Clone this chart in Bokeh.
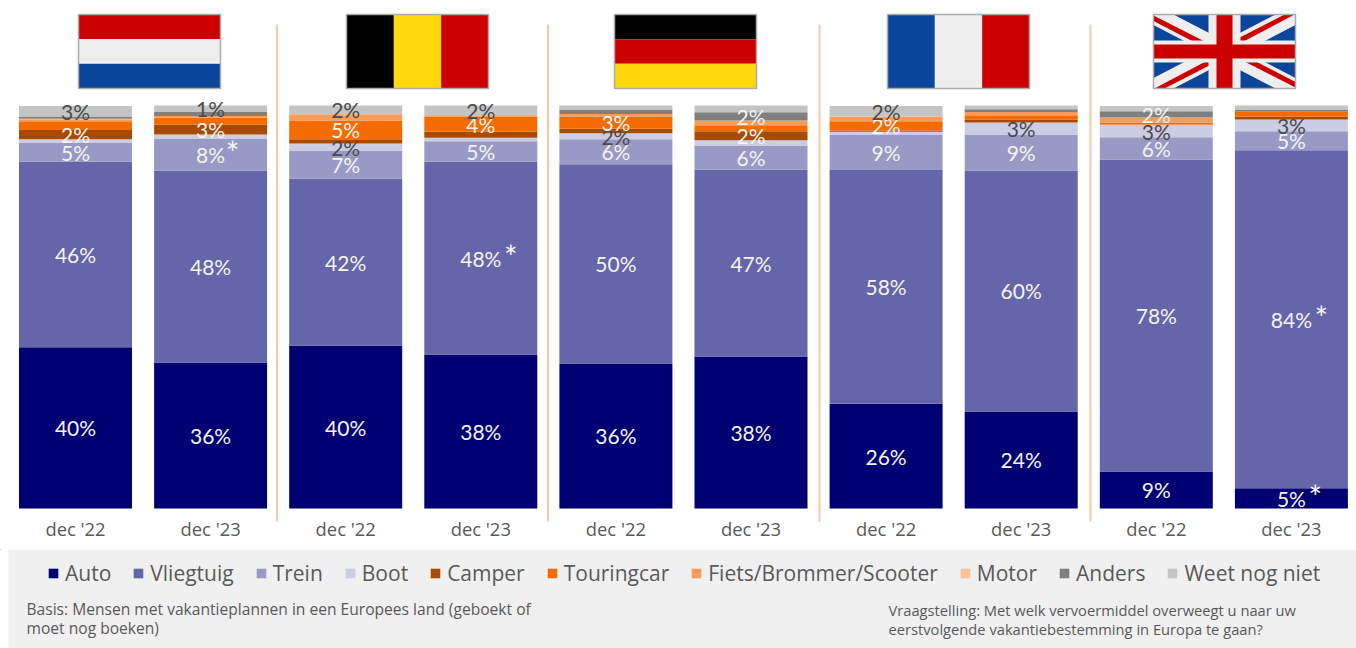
from bokeh.plotting import figure
from bokeh.models import Range1d, FixedTicker, ColumnDataSource, Legend, LegendItem
from bokeh.layouts import column
from bokeh.core.properties import value
from bokeh.embed import file_html
from bokeh.resources import INLINE

periods = ["dec '22", "dec '23"] * 5
series = ["Auto", "Vliegtuig", "Trein", "Boot", "Camper", "Touringcar",
          "Fiets/Brommer/Scooter", "Motor", "Anders", "Weet nog niet"]

auto      = [40.0, 36.2, 40.4, 38.2, 36.0, 37.7, 26.0, 24.1, 9.2, 5.0]
vliegtuig = [46.1, 47.6, 41.4, 47.9, 49.4, 46.4, 58.0, 59.8, 77.4, 83.9]
trein     = [4.7, 8.0, 6.9, 5.0, 6.2, 6.0, 8.7, 8.9, 5.5, 4.7]
boot      = [0.8, 1.0, 1.9, 0.9, 1.5, 1.3, 0.8, 3.0, 3.1, 2.9]
camper    = [2.3, 2.5, 1.0, 1.5, 1.1, 2.2, 0.3, 0.7, 0.1, 0.7]
touring   = [2.2, 1.7, 4.7, 3.8, 3.1, 1.5, 2.3, 1.1, 0.5, 1.4]
fiets     = [0.5, 0.4, 1.5, 0.3, 0.6, 1.2, 1.2, 0.8, 1.2, 0.0]
motor     = [0.1, 0.0, 0.0, 0.0, 0.0, 0.0, 0.0, 0.0, 0.0, 0.0]
anders    = [0.6, 1.0, 0.0, 0.0, 1.1, 2.0, 0.0, 0.7, 1.6, 0.4]
weet      = [2.6, 1.6, 2.2, 2.4, 1.0, 1.7, 2.6, 0.9, 1.3, 1.0]

lbl_auto      = ["40%", "36%", "40%", "38%", "36%", "38%", "26%", "24%", "9%", "5%"]
lbl_vliegtuig = ["46%", "48%", "42%", "48%", "50%", "47%", "58%", "60%", "78%", "84%"]
lbl_trein     = ["5%", "8%", "7%", "5%", "6%", "6%", "9%", "9%", "6%", "5%"]
lbl_boot      = ["", "", "2%", "", "2%", "", "", "3%", "3%", "3%"]
lbl_camper    = ["2%", "3%", "", "", "", "2%", "", "", "", ""]
lbl_touring   = ["", "", "5%", "4%", "3%", "", "2%", "", "", ""]
lbl_anders    = ["", "", "", "", "", "2%", "", "", "2%", ""]
lbl_weet      = ["3%", "1%", "2%", "2%", "", "", "2%", "", "", ""]

# (series index, bar index, horizontal offset in px) of the significance stars
stars = [(2, 1, 22), (1, 3, 30), (1, 9, 30), (0, 9, 24)]

colors = ["#000072", "#6565A9", "#9999C6", "#CCCCE4", "#A84B00", "#F46B00",
          "#F79D59", "#F9C39A", "#7F7F7F", "#C4C4C4"]
WHITE, DARK = "#F4F4F4", "#4A4A4A"
FONT, FONT2 = "Lato", "Open Sans"

values = [auto, vliegtuig, trein, boot, camper, touring, fiets, motor, anders, weet]
labels = [(0, lbl_auto, WHITE), (1, lbl_vliegtuig, WHITE), (2, lbl_trein, WHITE), (3, lbl_boot, DARK),
          (4, lbl_camper, WHITE), (5, lbl_touring, WHITE), (8, lbl_anders, WHITE), (9, lbl_weet, DARK)]

PX_PER_PCT, PITCH = 4.03, 135.1
def dx(px): return (px - 75) / PITCH
def dy(py): return (508 - py) / PX_PER_PCT

p = figure(width=1356, height=549, output_backend="svg", toolbar_location=None,
           x_range=Range1d(dx(0), dx(1356)), y_range=Range1d(dy(522), dy(0)),
           min_border_left=0, min_border_right=0, min_border_top=0, min_border_bottom=27,
           outline_line_color=None, background_fill_color="white", border_fill_color="white")
p.grid.visible = False
p.yaxis.visible = False
ax = p.xaxis[0]
ax.ticker = FixedTicker(ticks=list(range(10)))
ax.major_label_overrides = {i: t for i, t in enumerate(periods)}
ax.axis_line_color = None
ax.major_tick_line_color = None
ax.minor_tick_line_color = None
ax.major_tick_out = 0
ax.major_tick_in = 0
ax.major_label_standoff = -7
ax.major_label_text_font = FONT2
ax.major_label_text_font_size = "18.4px"
ax.major_label_text_color = "#595959"

# ---- stacked bars
xs = list(range(10))
data = {"x": xs}
keys = [f"s{i}" for i in range(10)]
for k, v in zip(keys, values):
    data[k] = v
p.vbar_stack(keys, x="x", width=113 / PITCH, color=colors, line_color=None,
             source=ColumnDataSource(data))

# ---- value labels, centred on their segment
def base(s, b):
    return sum(values[j][b] for j in range(s))

for s, texts, col in labels:
    idx = [b for b in xs if texts[b]]
    p.text(x=idx, y=[base(s, b) + values[s][b] / 2 for b in idx], text=[texts[b] for b in idx],
           text_color=col, text_align="center", text_baseline="middle",
           text_font=value(FONT), text_font_size="21px")
for s, b, off in stars:
    p.text(x=[b], y=[base(s, b) + values[s][b] / 2], text=["*"], x_offset=off, y_offset=-2,
           text_color=WHITE, text_align="center", text_baseline="middle",
           text_font=value(FONT), text_font_size="32px")

# ---- separators between the countries
for px in [276.5, 547.5, 819, 1090]:
    p.segment(x0=[dx(px)], x1=[dx(px)], y0=[dy(24)], y1=[dy(521)], line_color="#F8C8A4", line_width=2)

# ---- flags
RED, WHT, BLU, BLK, YEL = "#CC0000", "#EEEEEE", "#0B469C", "#000000", "#FFD80A"
F_W, F_H, F_T = 142, 74, 14

def poly(x0, pts, col):
    p.patch([dx(x0 + u) for u, v in pts], [dy(F_T + v) for u, v in pts], fill_color=col, line_color=None)

def box(x0, u0, v0, u1, v1, col):
    poly(x0, [(u0, v0), (u1, v0), (u1, v1), (u0, v1)], col)

def hstripes(x0, cols):
    for i, c in enumerate(cols):
        box(x0, 0, i * F_H / 3, F_W, (i + 1) * F_H / 3, c)

def vstripes(x0, cols):
    for i, c in enumerate(cols):
        box(x0, i * F_W / 3, 0, (i + 1) * F_W / 3, F_H, c)

def frame(x0):
    u = [0, F_W, F_W, 0, 0]
    v = [0, 0, F_H, F_H, 0]
    p.line([dx(x0 + a) for a in u], [dy(F_T + b) for b in v], line_color="#ABABAB", line_width=1.5)

hstripes(78, [RED, WHT, BLU]); frame(78)
vstripes(346, [BLK, YEL, RED]); frame(346)
hstripes(614, [BLK, RED, YEL]); frame(614)
vstripes(887, [BLU, WHT, RED]); frame(887)

uk = 1153
box(uk, 0, 0, F_W, F_H, BLU)
a, b = 20, 10.5
W, H = F_W, F_H
poly(uk, [(0, 0), (a, 0), (W, H - b), (W, H), (W - a, H), (0, b)], WHT)
poly(uk, [(W, 0), (W, b), (a, H), (0, H), (0, H - b), (W - a, 0)], WHT)
poly(uk, [(0, 1), (W / 2, H / 2), (W / 2 - 12, H / 2), (0, 6.5)], RED)
poly(uk, [(W, H - 1), (W / 2, H / 2), (W / 2 + 12, H / 2), (W, H - 6.5)], RED)
poly(uk, [(W - 1, 0), (W / 2, H / 2), (W / 2 - 12, H / 2), (W - 11, 0)], RED)
poly(uk, [(1, H), (W / 2, H / 2), (W / 2 + 12, H / 2), (11, H)], RED)
box(uk, W / 2 - 16, 0, W / 2 + 16, H, WHT)
box(uk, 0, H / 2 - 11, W, H / 2 + 11, WHT)
box(uk, W / 2 - 8, 0, W / 2 + 8, H, RED)
box(uk, 0, H / 2 - 7, W, H / 2 + 7, RED)
frame(uk)

# ---- grey panel with legend and notes
q = figure(width=1356, height=99, output_backend="svg", toolbar_location=None,
           x_range=Range1d(0, 1356), y_range=Range1d(648, 549),
           min_border_left=0, min_border_right=0, min_border_top=0, min_border_bottom=0,
           outline_line_color=None, background_fill_color="white", border_fill_color="white")
q.grid.visible = False
q.axis.visible = False
q.quad(left=[8], right=[1356], top=[549], bottom=[648], fill_color="#F0F0F0", line_color=None)

items = []
for name, col in zip(series, colors):
    r = q.vbar(x=[-1000], top=[0], bottom=[0], width=1, fill_color=col, line_color=None)
    items.append(LegendItem(label=name, renderers=[r]))
leg = Legend(items=items, orientation="horizontal", location=(47, 61), padding=0, margin=0,
             spacing=21, glyph_width=12, glyph_height=12, label_standoff=6,
             background_fill_alpha=0, border_line_color=None, label_height=20,
             label_text_font=FONT2, label_text_font_size="21px", label_text_color="#595959",
             label_text_baseline="middle")
q.add_layout(leg, "center")

note_color = "#595959"
for x, y, t, fs in [(26, 608, "Basis: Mensen met vakantieplannen in een Europees land (geboekt of", "15.6px"),
                    (26, 627, "moet nog boeken)", "15.6px"),
                    (888, 609, "Vraagstelling: Met welk vervoermiddel overweegt u naar uw", "14.7px"),
                    (888, 628, "eerstvolgende vakantiebestemming in Europa te gaan?", "14.7px")]:
    q.text(x=[x], y=[y], text=[t], text_color=note_color, text_align="left", text_baseline="middle",
           text_font=value(FONT2), text_font_size=fs)

page = column(p, q, spacing=0)
open("out.html", "w").write(file_html(page, INLINE))
